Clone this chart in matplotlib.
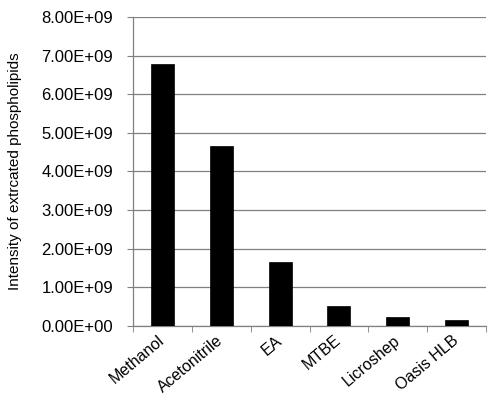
import numpy as np
import matplotlib.pyplot as plt
from matplotlib.ticker import FuncFormatter, FixedLocator

plt.rcParams['font.family'] = ['Liberation Sans', 'DejaVu Sans']

methods = ['Methanol', 'Acetonitrile', 'EA', 'MTBE', 'Licroshep', 'Oasis HLB']
intensity = [6.77e9, 4.67e9, 1.65e9, 0.51e9, 0.23e9, 0.155e9]

fig = plt.figure(figsize=(5, 4.04), dpi=100)
ax = fig.add_axes([0.266, 0.193, 0.706, 0.765])

x = np.arange(len(methods))
ax.bar(x, intensity, width=0.39, color='black', edgecolor='black', linewidth=0.5, zorder=3)

ax.set_xlim(-0.5, len(methods) - 0.5)
ax.set_ylim(0, 8e9)
ax.set_yticks(np.arange(0, 8.01e9, 1e9))
ax.yaxis.set_major_formatter(FuncFormatter(lambda v, p: f'{v:.2E}'))
ax.grid(axis='y', color='#808080', linewidth=0.9, zorder=0)

ax.set_xticks(x)
ax.set_xticklabels(methods, rotation=40, ha='right', va='center', rotation_mode='anchor')
ax.xaxis.set_minor_locator(FixedLocator(np.arange(-0.5, len(methods), 1)))
ax.tick_params(axis='x', which='major', length=0, pad=9, labelsize=11.5)
ax.tick_params(axis='x', which='minor', length=4.3, direction='out', color='#808080')
ax.tick_params(axis='y', length=4.3, direction='out', color='#808080', labelsize=12, pad=10)

for s in ['top', 'right']:
    ax.spines[s].set_visible(False)
for s in ['left', 'bottom']:
    ax.spines[s].set_color('#808080')
    ax.spines[s].set_linewidth(0.9)

ax.set_ylabel('Intensity of extrcated phospholipids', fontsize=11, labelpad=14)

fig.savefig('out.png', dpi=100)
